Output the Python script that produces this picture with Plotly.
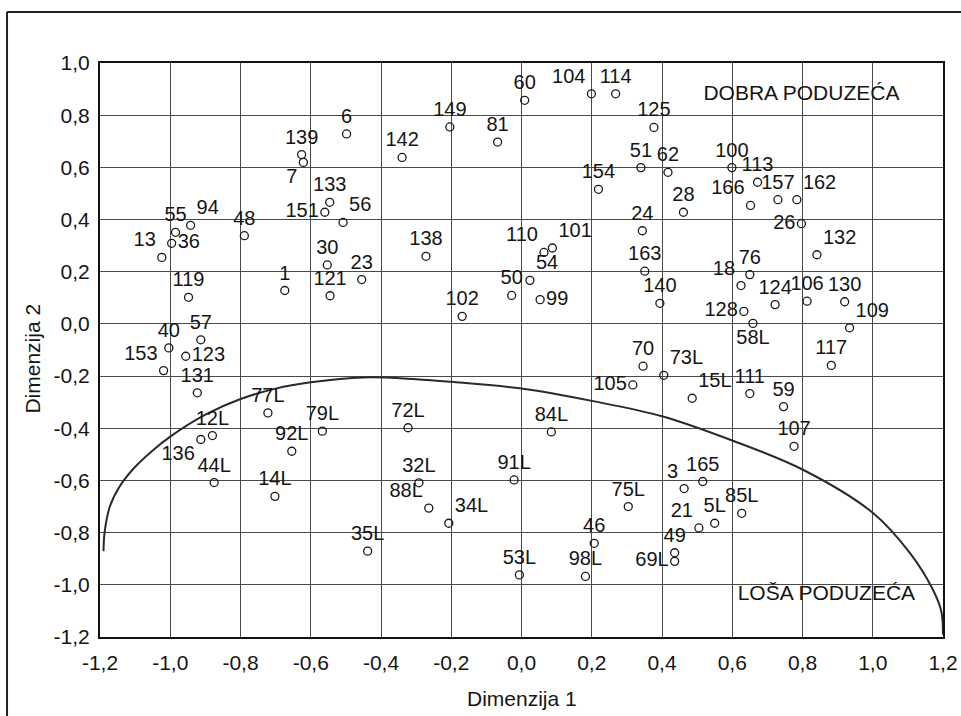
import plotly.graph_objects as go

# ---- data ----
labels = ["60", "104", "114", "149", "81", "6", "139", "7", "142", "125", "51", "62",
          "154", "100", "113", "157", "162", "166", "26", "28", "24", "132", "163", "76",
          "18", "55", "94", "48", "13", "36", "1", "119", "133", "151", "56", "30", "23",
          "121", "138", "110", "101", "50", "54", "99", "102", "140", "124", "106", "130",
          "128", "58L", "109", "117", "70", "73L", "105", "15L", "111", "59", "107",
          "57", "40", "123", "153", "131", "77L", "12L", "136", "92L", "44L", "14L", "79L",
          "72L", "84L", "32L", "91L", "88L", "34L", "35L", "53L", "46", "98L",
          "3", "165", "75L", "85L", "5L", "21", "49", "69L"]
dim1 = [0.009, 0.199, 0.268, -0.204, -0.068, -0.498, -0.626, -0.621, -0.340, 0.377, 0.340, 0.417,
        0.219, 0.599, 0.672, 0.730, 0.784, 0.652, 0.797, 0.461, 0.344, 0.841, 0.351, 0.650,
        0.625, -0.985, -0.942, -0.789, -1.024, -0.996, -0.674, -0.948, -0.546, -0.560, -0.508, -0.553, -0.455,
        -0.545, -0.272, 0.064, 0.088, -0.028, 0.024, 0.053, -0.169, 0.394, 0.722, 0.813, 0.920,
        0.633, 0.659, 0.934, 0.882, 0.346, 0.405, 0.317, 0.486, 0.650, 0.746, 0.776,
        -0.913, -1.004, -0.956, -1.019, -0.923, -0.722, -0.880, -0.913, -0.654, -0.875, -0.702, -0.567,
        -0.323, 0.085, -0.292, -0.021, -0.264, -0.207, -0.438, -0.006, 0.207, 0.182,
        0.463, 0.516, 0.304, 0.627, 0.550, 0.505, 0.436, 0.436]
dim2 = [0.857, 0.882, 0.882, 0.755, 0.697, 0.728, 0.649, 0.619, 0.638, 0.753, 0.599, 0.581,
        0.516, 0.599, 0.543, 0.476, 0.476, 0.454, 0.384, 0.428, 0.357, 0.265, 0.202, 0.189,
        0.147, 0.351, 0.378, 0.338, 0.255, 0.309, 0.128, 0.102, 0.466, 0.428, 0.389, 0.226, 0.170,
        0.108, 0.259, 0.274, 0.291, 0.109, 0.167, 0.093, 0.029, 0.079, 0.074, 0.087, 0.085,
        0.048, 0.002, -0.015, -0.159, -0.162, -0.197, -0.234, -0.285, -0.267, -0.317, -0.469,
        -0.061, -0.092, -0.124, -0.179, -0.264, -0.341, -0.428, -0.443, -0.488, -0.608, -0.661, -0.411,
        -0.398, -0.414, -0.609, -0.598, -0.706, -0.764, -0.871, -0.962, -0.841, -0.968,
        -0.631, -0.604, -0.700, -0.726, -0.764, -0.782, -0.877, -0.910]
label_pos = ["top center", "top left", "top center", "top center", "top center", "top center",
             "top center", "bottom left", "top center", "top center", "top center", "top center",
             "top center", "top center", "top center", "top center", "top right", "top left",
             "middle left", "top center", "top center", "top right", "top center", "top center",
             "top left", "top center", "top right", "top center", "top left", "middle right",
             "top center", "top center", "top center", "middle left", "top right", "top center",
             "top center", "top center", "top center", "top left", "top right", "top center",
             "top right", "middle right", "top center", "top center", "top center", "top center",
             "top center", "middle left", "bottom center", "top right", "top center", "top center",
             "top right", "middle left", "top right", "top center", "top center", "top center",
             "top center", "top center", "middle right", "top left", "top center", "top center",
             "top center", "bottom left", "top center", "top center", "top center", "top center",
             "top center", "top center", "top center", "top center", "top left", "top right",
             "top center", "top center", "top center", "top center",
             "top left", "top center", "top center", "top center", "top center", "top left",
             "top center", "middle left"]

# boundary curve separating good and bad companies
curve_x = [-1.19, -1.187, -1.172, -1.145, -1.105, -1.05, -1.0, -0.9, -0.8, -0.7, -0.6, -0.45,
           -0.3, -0.2, 0.0, 0.2, 0.4, 0.6, 0.8, 1.0, 1.105, 1.171, 1.195, 1.2]
curve_y = [-0.871, -0.80, -0.70, -0.625, -0.555, -0.485, -0.432, -0.348, -0.288, -0.248, -0.224, -0.205,
           -0.212, -0.222, -0.248, -0.295, -0.354, -0.447, -0.558, -0.724, -0.877, -1.018, -1.10, -1.19]

region_labels = ["DOBRA PODUZEĆA", "LOŠA PODUZEĆA"]
region_x = [0.797, 0.868]
region_y = [0.879, -1.037]

tick_vals_x = [-1.2, -1.0, -0.8, -0.6, -0.4, -0.2, 0.0, 0.2, 0.4, 0.6, 0.8, 1.0, 1.2]
tick_vals_y = [-1.2, -1.0, -0.8, -0.6, -0.4, -0.2, 0.0, 0.2, 0.4, 0.6, 0.8, 1.0]

def fmt(v):
    return f"{v:.1f}".replace(".", ",").replace("-0,0", "0,0")

FONT = "Liberation Sans, Arial, sans-serif"
INK = "#151515"

fig = go.Figure()
fig.add_trace(go.Scatter(
    x=curve_x, y=curve_y, mode="lines",
    line=dict(color="#2a2a2a", width=2, shape="spline", smoothing=1.0),
    hoverinfo="skip", showlegend=False))
fig.add_trace(go.Scatter(
    x=dim1, y=dim2, mode="markers+text", text=labels, textposition=label_pos,
    textfont=dict(family=FONT, size=20, color=INK),
    marker=dict(symbol="circle-open", size=8, color="#1a1a1a", line=dict(width=1.3, color="#1a1a1a")),
    cliponaxis=False, showlegend=False))
fig.add_trace(go.Scatter(
    x=region_x, y=region_y, mode="text", text=region_labels, textposition="middle center",
    textfont=dict(family=FONT, size=21, color=INK), showlegend=False, hoverinfo="skip"))

axis_common = dict(showgrid=True, gridcolor="#4a4a4a", gridwidth=1, zeroline=False,
                   showline=True, linecolor="#111", linewidth=2, mirror=True, ticks="",
                   automargin=False, tickfont=dict(family=FONT, size=21, color=INK))
fig.update_xaxes(range=[-1.2, 1.2], tickvals=tick_vals_x, ticktext=[fmt(v) for v in tick_vals_x],
                 ticklabelstandoff=6, **axis_common)
fig.update_yaxes(range=[-1.2, 1.0], tickvals=tick_vals_y, ticktext=[fmt(v) for v in tick_vals_y],
                 ticklabelstandoff=4, **axis_common)

# axis titles
fig.add_annotation(text="Dimenzija 1", xref="paper", yref="paper", x=0.5, y=-0.1063,
                   showarrow=False, xanchor="center", yanchor="middle",
                   font=dict(family=FONT, size=21, color=INK))
fig.add_annotation(text="Dimenzija 2", xref="paper", yref="paper", x=-0.0795, y=0.485,
                   showarrow=False, xanchor="center", yanchor="middle", textangle=-90,
                   font=dict(family=FONT, size=21, color=INK))

# outer frame of the scanned figure (left and top edges)
fig.add_shape(type="line", xref="paper", yref="paper", x0=-0.1103, x1=-0.1103, y0=-0.14, y1=1.0889,
              line=dict(color="#222", width=2))
fig.add_shape(type="line", xref="paper", yref="paper", x0=-0.1103, x1=1.03, y0=1.0889, y1=1.0889,
              line=dict(color="#222", width=2))

fig.update_layout(width=961, height=716, margin=dict(l=100, r=18, t=63, b=79),
                  paper_bgcolor="white", plot_bgcolor="white",
                  font=dict(family=FONT, color=INK))
fig.write_html("out.html", config={"displayModeBar": False},
               post_script="document.body.style.margin='0px';document.body.style.overflow='hidden';")
